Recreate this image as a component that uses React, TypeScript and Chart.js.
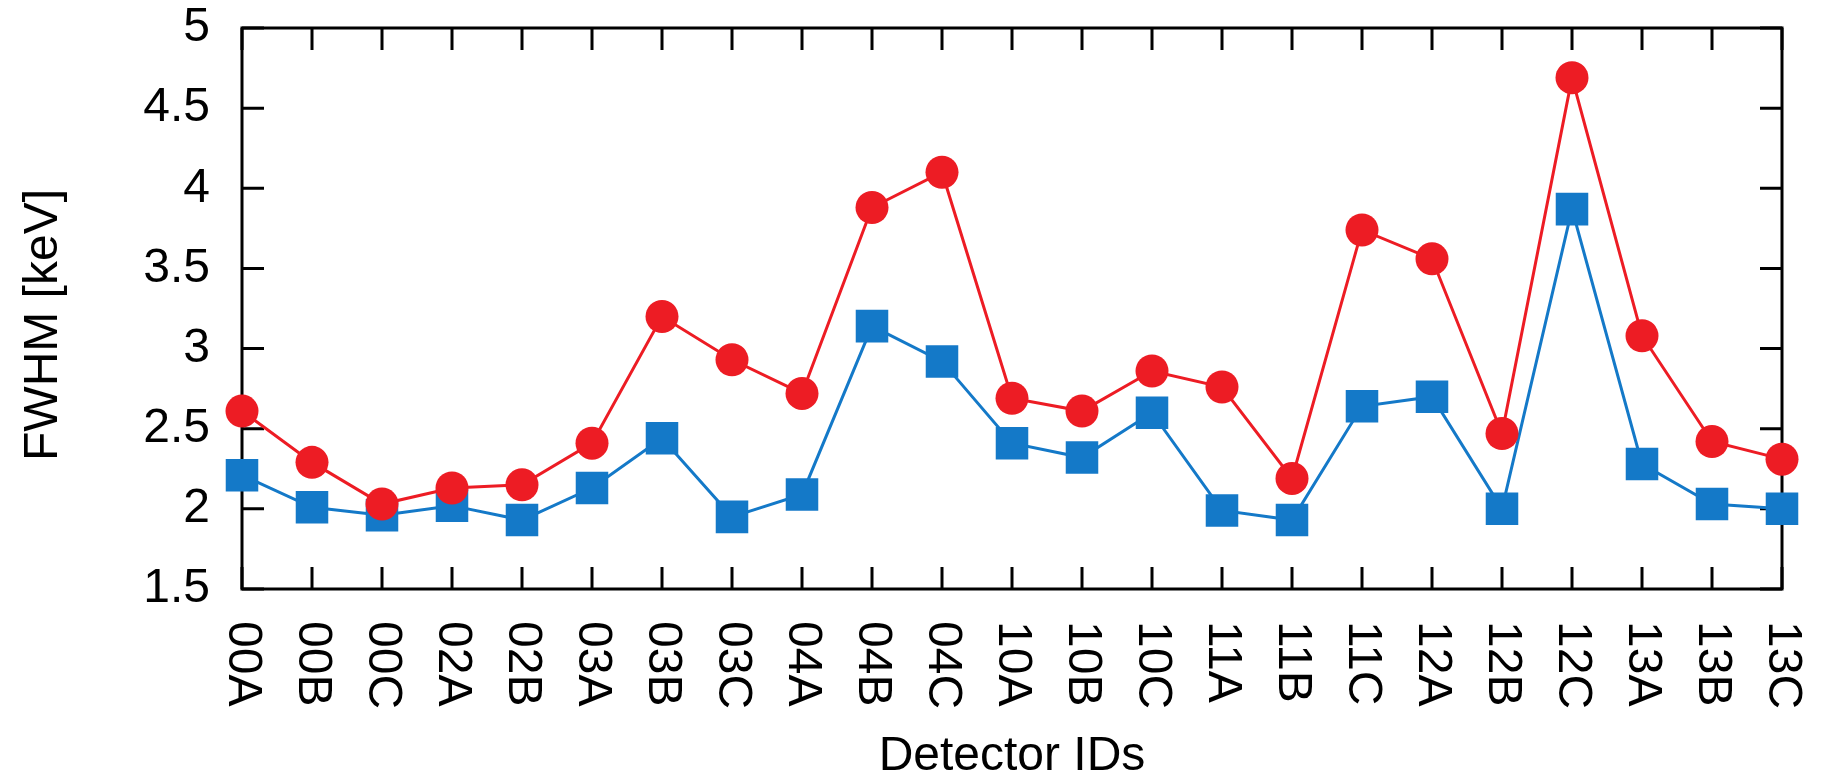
import React, { useEffect, useRef } from "react";
import { Chart, registerables } from "chart.js";

Chart.register(...registerables);

const categories = ["00A","00B","00C","02A","02B","03A","03B","03C","04A","04B","04C","10A","10B","10C","11A","11B","11C","12A","12B","12C","13A","13B","13C"];
const redValues = [2.61, 2.29, 2.03, 2.13, 2.15, 2.41, 3.20, 2.93, 2.72, 3.88, 4.10, 2.69, 2.61, 2.86, 2.76, 2.19, 3.74, 3.56, 2.47, 4.69, 3.08, 2.42, 2.31];
const blueValues = [2.21, 2.01, 1.96, 2.02, 1.93, 2.13, 2.44, 1.95, 2.09, 3.14, 2.92, 2.41, 2.32, 2.60, 1.99, 1.93, 2.64, 2.70, 2.00, 3.87, 2.28, 2.03, 2.00];
const yMin = 1.5;
const yMax = 5;
const yStep = 0.5;
const xTitle = "Detector IDs";
const yTitle = "FWHM [keV]";

const RED = "#ED1C24";
const BLUE = "#1479C8";
const FONT = '"Liberation Sans", Arial, Helvetica, sans-serif';

const framePlugin = {
  id: "frame",
  beforeDatasetsDraw(chart: any) {
    const { ctx, chartArea } = chart;
    const { left, right, top, bottom } = chartArea;
    const x = chart.scales.x;
    const y = chart.scales.y;
    const tl = 22;
    ctx.save();
    ctx.strokeStyle = "#000";
    ctx.lineWidth = 3;
    ctx.lineCap = "butt";
    ctx.beginPath();
    y.ticks.forEach((t: any) => {
      const py = y.getPixelForValue(t.value);
      ctx.moveTo(left, py); ctx.lineTo(left + tl, py);
      ctx.moveTo(right, py); ctx.lineTo(right - tl, py);
    });
    categories.forEach((_c, i) => {
      const px = x.getPixelForValue(i);
      ctx.moveTo(px, bottom); ctx.lineTo(px, bottom - tl);
      ctx.moveTo(px, top); ctx.lineTo(px, top + tl);
    });
    ctx.stroke();
    ctx.lineJoin = "miter";
    ctx.strokeRect(left, top, right - left, bottom - top);
    ctx.restore();
  },
  afterDraw(chart: any) {
    const { ctx, chartArea } = chart;
    const { left, right, bottom } = chartArea;
    const x = chart.scales.x;
    ctx.save();
    ctx.fillStyle = "#000";
    ctx.font = `48px ${FONT}`;
    categories.forEach((c, i) => {
      const px = x.getPixelForValue(i);
      ctx.save();
      ctx.translate(px, bottom + 32);
      ctx.rotate(Math.PI / 2);
      ctx.textAlign = "left";
      ctx.textBaseline = "middle";
      ctx.fillText(c, 0, 0);
      ctx.restore();
    });
    ctx.textAlign = "center";
    ctx.textBaseline = "alphabetic";
    ctx.fillText(xTitle, (left + right) / 2, 770);
    ctx.save();
    ctx.translate(57, 325);
    ctx.rotate(-Math.PI / 2);
    ctx.textAlign = "center";
    ctx.textBaseline = "alphabetic";
    ctx.fillText(yTitle, 0, 0);
    ctx.restore();
    ctx.restore();
  },
};

export default function App() {
  const ref = useRef<HTMLCanvasElement | null>(null);
  useEffect(() => {
    if (!ref.current) return;
    const chart = new Chart(ref.current, {
      type: "line",
      data: {
        labels: categories,
        datasets: [
          {
            data: redValues,
            borderColor: RED,
            backgroundColor: RED,
            borderWidth: 3,
            pointStyle: "circle",
            pointRadius: 16.5,
            pointHoverRadius: 16.5,
            pointBackgroundColor: RED,
            pointBorderWidth: 0,
            tension: 0,
            clip: false as any,
          },
          {
            data: blueValues,
            borderColor: BLUE,
            backgroundColor: BLUE,
            borderWidth: 3,
            pointStyle: "rect",
            pointRadius: 23,
            pointHoverRadius: 23,
            pointBackgroundColor: BLUE,
            pointBorderWidth: 0,
            tension: 0,
            clip: false as any,
          },
        ],
      },
      options: {
        responsive: false,
        animation: false,
        events: [],
        layout: { padding: { left: 0, right: 39, top: 28, bottom: 0 } },
        plugins: { legend: { display: false }, tooltip: { enabled: false } },
        scales: {
          x: {
            type: "category",
            offset: false,
            grid: { display: false, drawTicks: false },
            border: { display: false },
            ticks: { display: false },
            afterFit: (s: any) => { s.height = 188; s.paddingLeft = 0; s.paddingRight = 0; },
          },
          y: {
            min: yMin,
            max: yMax,
            grid: { display: false, drawTicks: false },
            border: { display: false },
            ticks: {
              stepSize: yStep,
              padding: 32,
              color: "#000",
              font: { family: FONT, size: 48 },
              callback: (v: any) => String(v),
            },
            afterFit: (s: any) => { s.width = 242; s.paddingTop = 0; s.paddingBottom = 0; },
          },
        },
      },
      plugins: [framePlugin],
    });
    return () => chart.destroy();
  }, []);
  return (
    <div style={{ position: "absolute", left: 0, top: 0, width: 1821, height: 777, background: "#fff" }}>
      <canvas ref={ref} width={1821} height={777} style={{ width: 1821, height: 777, display: "block" }} />
    </div>
  );
}
